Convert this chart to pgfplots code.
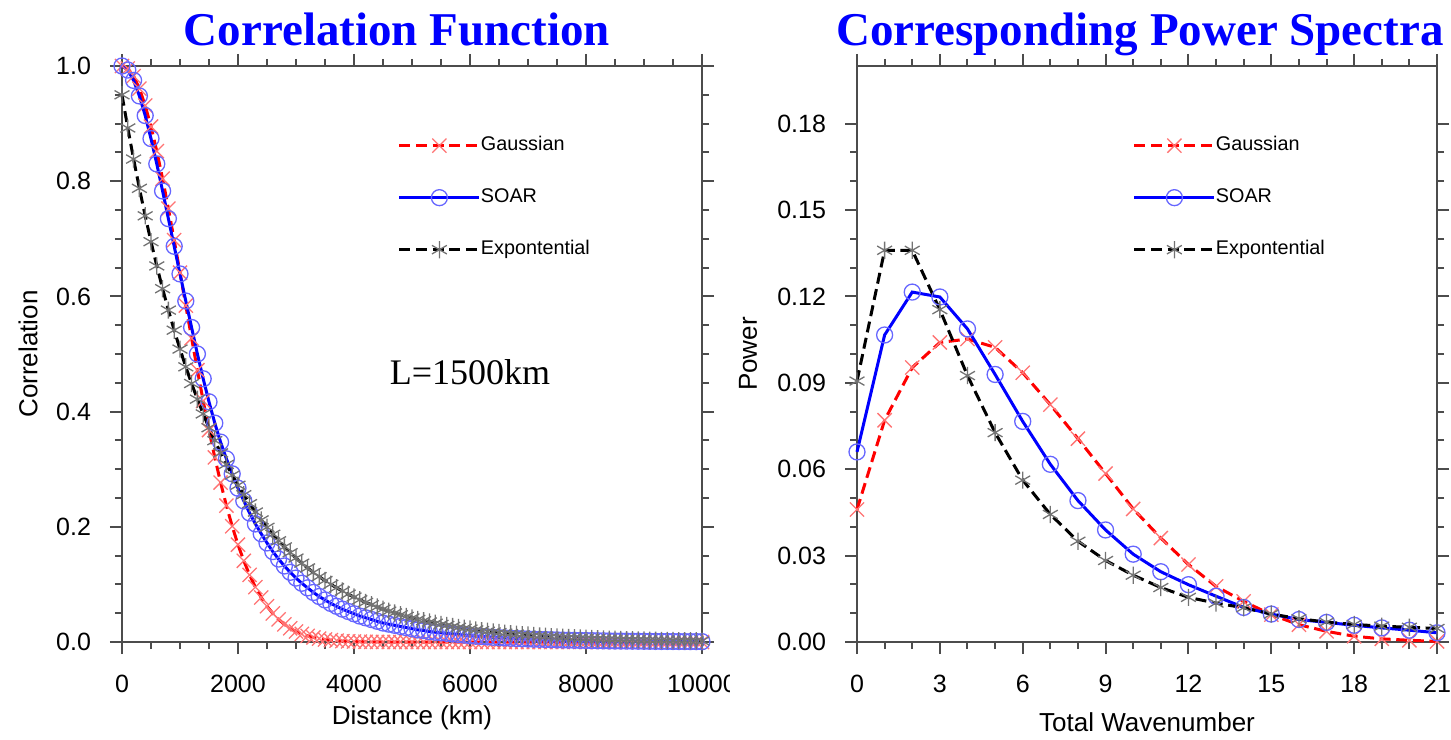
\documentclass[border=0pt]{standalone}
\usepackage{fontspec}
\setmainfont{Liberation Sans}
\newfontfamily\seriffont{Liberation Serif}
\usepackage{pgfplots}
\pgfplotsset{compat=1.18}
\usepackage{pgfplotstable}

\pgfplotstableread{
r g s e
0 1.0000 1.000 0.9500
100 0.9956 0.993 0.8924
200 0.9824 0.975 0.8384
300 0.9608 0.948 0.7876
400 0.9314 0.914 0.7399
500 0.8948 0.874 0.6950
600 0.8521 0.830 0.6529
700 0.8043 0.783 0.6134
800 0.7525 0.735 0.5762
900 0.6977 0.687 0.5413
1000 0.6412 0.639 0.5085
1100 0.5840 0.592 0.4777
1200 0.5273 0.546 0.4488
1300 0.4719 0.500 0.4216
1400 0.4185 0.457 0.3960
1500 0.3679 0.417 0.3720
1600 0.3205 0.380 0.3495
1700 0.2768 0.347 0.3283
1800 0.2369 0.318 0.3084
1900 0.2010 0.292 0.2897
2000 0.1690 0.267 0.2722
2100 0.1409 0.245 0.2557
2200 0.1164 0.224 0.2402
2300 0.0953 0.205 0.2256
2400 0.0773 0.188 0.2120
2500 0.0622 0.172 0.1991
2600 0.0496 0.157 0.1871
2700 0.0392 0.144 0.1757
2800 0.0307 0.132 0.1651
2900 0.0238 0.121 0.1551
3000 0.0183 0.111 0.1457
3100 0.0140 0.102 0.1369
3200 0.0106 0.094 0.1286
3300 0.0079 0.086 0.1208
3400 0.0059 0.079 0.1135
3500 0.0043 0.073 0.1066
3600 0.0032 0.067 0.1001
3700 0.0023 0.062 0.0941
3800 0.0016 0.057 0.0884
3900 0.0012 0.053 0.0830
4000 0.0008 0.049 0.0780
4100 0.0006 0.045 0.0733
4200 0.0004 0.042 0.0688
4300 0.0003 0.039 0.0647
4400 0.0002 0.036 0.0607
4500 0.0001 0.033 0.0571
4600 0 0.031 0.0536
4700 0 0.029 0.0504
4800 0 0.027 0.0473
4900 0 0.025 0.0445
5000 0 0.023 0.0418
5100 0 0.021 0.0392
5200 0 0.020 0.0369
5300 0 0.018 0.0346
5400 0 0.017 0.0325
5500 0 0.016 0.0306
5600 0 0.015 0.0287
5700 0 0.014 0.0270
5800 0 0.013 0.0253
5900 0 0.012 0.0238
6000 0 0.011 0.0224
6100 0 0.010 0.0210
6200 0 0.0095 0.0197
6300 0 0.0088 0.0185
6400 0 0.0082 0.0174
6500 0 0.0076 0.0164
6600 0 0.0071 0.0154
6700 0 0.0066 0.0144
6800 0 0.0061 0.0136
6900 0 0.0057 0.0127
7000 0 0.0053 0.0120
7100 0 0.0049 0.0112
7200 0 0.0046 0.0106
7300 0 0.0043 0.0099
7400 0 0.0040 0.0093
7500 0 0.0037 0.0088
7600 0 0.0034 0.0082
7700 0 0.0032 0.0077
7800 0 0.0030 0.0073
7900 0 0.0028 0.0068
8000 0 0.0026 0.0064
8100 0 0.0024 0.0060
8200 0 0.0022 0.0057
8300 0 0.0021 0.0053
8400 0 0.0019 0.0050
8500 0 0.0018 0.0047
8600 0 0.0017 0.0044
8700 0 0.0016 0.0041
8800 0 0.0015 0.0039
8900 0 0.0014 0.0037
9000 0 0.0013 0.0034
9100 0 0.0012 0.0032
9200 0 0.0011 0.0030
9300 0 0.0010 0.0028
9400 0 0.0010 0.0027
9500 0 0.0009 0.0025
9600 0 0.0008 0.0024
9700 0 0.0008 0.0022
9800 0 0.0007 0.0021
9900 0 0.0007 0.0020
10000 0 0.0006 0.0018
}\corr

\pgfplotstableread{
k g s e
0 0.0460 0.0660 0.0906
1 0.0770 0.1066 0.1360
2 0.0953 0.1215 0.1360
3 0.1040 0.1198 0.1154
4 0.1052 0.1087 0.0925
5 0.1023 0.0929 0.0727
6 0.0935 0.0766 0.0562
7 0.0824 0.0617 0.0443
8 0.0706 0.0491 0.0350
9 0.0585 0.0389 0.0283
10 0.0462 0.0305 0.0232
11 0.0361 0.0244 0.0189
12 0.0269 0.0199 0.0155
13 0.0193 0.0159 0.0135
14 0.0141 0.0120 0.0119
15 0.0095 0.0097 0.0097
16 0.0060 0.0078 0.0081
17 0.0037 0.0068 0.0069
18 0.0020 0.0058 0.0061
19 0.0011 0.0049 0.0055
20 0.0006 0.0041 0.0051
21 0.0002 0.0032 0.0047
}\spec

\pgfplotsset{
  ncl/.style={
    width=290pt, height=288pt, scale only axis,
    axis line style={black!70, line width=1pt},
    every tick/.style={black!70, line width=1pt},
    tick align=outside,
    major tick length=6pt, minor tick length=3.5pt,
    clip=false,
    scaled ticks=false,
    /pgf/number format/assume math mode=true,
    ticklabel style={font=\fontsize{12.5}{14}\selectfont},
    label style={font=\fontsize{13}{15}\selectfont},
    xticklabel shift=7pt, yticklabel shift=6pt,
    legend style={draw=none, fill=none, at={(0.475,0.878)}, anchor=north west,
      font=\fontsize{9.9}{11}\selectfont, row sep=17pt, inner sep=0pt,
      nodes={inner sep=0pt, text height=7pt, text depth=2pt}},
    legend cell align=left,
    legend image code/.code={\draw[mark repeat=2,mark phase=2] plot coordinates {(0pt,0pt)(20pt,0pt)(40pt,0pt)};},
  },
  gss/.style={red, line width=1.5pt, dash pattern=on 5.5pt off 2.8pt, mark=x, mark size=5pt,
    mark options={solid, line width=0.65pt, draw=red!55}},
  soar/.style={blue, line width=1.5pt, solid, mark=o, mark size=4pt,
    mark options={solid, line width=0.65pt, draw=blue!60}},
  expo/.style={black, line width=1.5pt, dash pattern=on 5.5pt off 2.8pt, mark=asterisk, mark size=4.3pt,
    mark options={solid, line width=0.65pt, draw=black!55}},
}

\begin{document}
\begin{tikzpicture}
\useasboundingbox (-61pt,-48.5pt) rectangle (664.5pt,321pt);
\begin{axis}[ncl, at={(0pt,0pt)},
  xmin=0, xmax=10000, ymin=0, ymax=1,
  xtick={0,2000,4000,6000,8000,10000}, minor x tick num=3,
  ytick={0,0.2,0.4,0.6,0.8,1.0}, minor y tick num=3,
  xticklabel style={/pgf/number format/1000 sep={}},
  yticklabel style={/pgf/number format/.cd, fixed, fixed zerofill, precision=1},
  xlabel={Distance (km)}, ylabel={Correlation},
  xlabel style={at={(axis description cs:0.5,-0.132)}, anchor=center},
  ylabel style={at={(axis description cs:-0.162,0.5)}, anchor=center},
]
\addplot[gss] table[x=r, y=g] {\corr};
\addlegendentry{Gaussian}
\addplot[soar] table[x=r, y=s] {\corr};
\addlegendentry{SOAR}
\addplot[expo] table[x=r, y=e] {\corr};
\addlegendentry{Expontential}
\end{axis}
\fill[white] (304pt,-32pt) rectangle (318pt,-12pt);
\begin{axis}[ncl, at={(367.5pt,0pt)},
  xmin=0, xmax=21, ymin=0, ymax=0.2,
  xtick={0,3,6,9,12,15,18,21}, minor x tick num=2,
  ytick={0,0.03,0.06,0.09,0.12,0.15,0.18}, minor y tick num=2,
  yticklabel style={/pgf/number format/.cd, fixed, fixed zerofill, precision=2},
  xlabel={Total Wavenumber}, ylabel={Power},
  xlabel style={at={(axis description cs:0.5,-0.139)}, anchor=center},
  ylabel style={at={(axis description cs:-0.188,0.5)}, anchor=center},
]
\addplot[gss] table[x=k, y=g] {\spec};
\addlegendentry{Gaussian}
\addplot[soar] table[x=k, y=s] {\spec};
\addlegendentry{SOAR}
\addplot[expo] table[x=k, y=e] {\spec};
\addlegendentry{Expontential}
\end{axis}
\node[anchor=base, text=blue, font=\seriffont\bfseries\fontsize{23.5}{28}\selectfont] at (137.5pt,298pt) {Correlation Function};
\node[anchor=base, text=blue, font=\seriffont\bfseries\fontsize{23.5}{28}\selectfont] at (509pt,298pt) {Corresponding Power Spectra};
\node[anchor=base, font=\seriffont\fontsize{18}{22}\selectfont] at (174pt,128.5pt) {L=1500km};
\end{tikzpicture}
\end{document}
